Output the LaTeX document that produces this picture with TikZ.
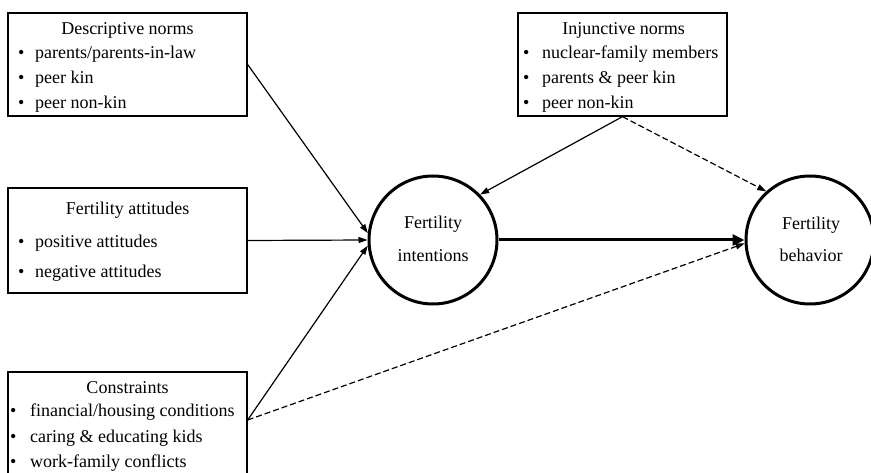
\documentclass[tikz,border=0pt]{standalone}
\usepackage{fontspec}
\setmainfont{Liberation Serif}
\usetikzlibrary{arrows.meta}
\begin{document}
\begin{tikzpicture}[x=1pt,y=-1pt,
  box/.style={draw,line width=1.3pt,inner sep=0pt},
  circ/.style={draw,circle,line width=3pt,inner sep=0pt,minimum size=128pt},
  txt/.style={font=\fontsize{18}{22}\selectfont,inner sep=0pt},
  tl/.style={txt,anchor=base},
  it/.style={txt,anchor=base west},
  arr/.style={line width=1.2pt,-{Triangle[length=9pt,width=6pt]}},
  darr/.style={arr,dash pattern=on 6pt off 3pt},
  tarr/.style={line width=3pt,-{Triangle[length=12pt,width=11pt]}}]
\useasboundingbox (0,0) rectangle (871,473);

% boxes
\node[box,minimum width=239pt,minimum height=103pt] (desc) at (127.5,64.5) {};
\node[box,minimum width=239pt,minimum height=105pt] (att) at (127.5,240.5) {};
\node[box,minimum width=239pt,minimum height=104pt] (cons) at (127.5,424) {};
\node[box,minimum width=209pt,minimum height=103pt] (inj) at (622.5,64.5) {};

% circles
\node[circ] (int) at (433,240) {};
\node[circ] (beh) at (810,240) {};

% texts: descriptive norms
\node[tl] (d0) at (127.5,35) {Descriptive norms};
\node[it] (d1b) at (18,59) {\textbullet};
\node[it] (d1) at (35,59) {parents/parents-in-law};
\node[it] (d2b) at (18,84) {\textbullet};
\node[it] (d2) at (35,84) {peer kin};
\node[it] (d3b) at (18,109) {\textbullet};
\node[it] (d3) at (35,109) {peer non-kin};

% fertility attitudes
\node[tl] (a0) at (127.5,215) {Fertility attitudes};
\node[it] (a1b) at (18,248) {\textbullet};
\node[it] (a1) at (35,248) {positive attitudes};
\node[it] (a2b) at (18,278) {\textbullet};
\node[it] (a2) at (35,278) {negative attitudes};

% constraints
\node[tl] (c0) at (127.5,393) {Constraints};
\node[it] (c1b) at (10,417) {\textbullet};
\node[it] (c1) at (30,417) {financial/housing conditions};
\node[it] (c2b) at (10,442) {\textbullet};
\node[it] (c2) at (30,442) {caring \& educating kids};
\node[it] (c3b) at (10,467) {\textbullet};
\node[it] (c3) at (30,467) {work-family conflicts};

% injunctive norms
\node[tl] (i0) at (623.5,35) {Injunctive norms};
\node[it] (i1b) at (523,59) {\textbullet};
\node[it] (i1) at (542,59) {nuclear-family members};
\node[it] (i2b) at (523,84) {\textbullet};
\node[it] (i2) at (542,84) {parents \& peer kin};
\node[it] (i3b) at (523,109) {\textbullet};
\node[it] (i3) at (542,109) {peer non-kin};

% circle texts
\node[tl] (n1) at (433,229) {Fertility};
\node[tl] (n2) at (433,262) {intentions};
\node[tl] (b1) at (811,230) {Fertility};
\node[tl] (b2) at (811,262) {behavior};

% connectors
\coordinate (cs) at (cons.east |- 0,420);
\draw[arr] (desc.east) -- (int.174);
\draw[arr] (att.east) -- (int.west);
\draw[arr] (cs) -- (int.185);
\draw[darr] (cs) -- (beh.183);
\draw[arr] (inj.south) -- (int.44);
\draw[darr] (inj.south) -- (beh.132);
\draw[tarr] (int.east) -- (beh.west);
\end{tikzpicture}
\end{document}
